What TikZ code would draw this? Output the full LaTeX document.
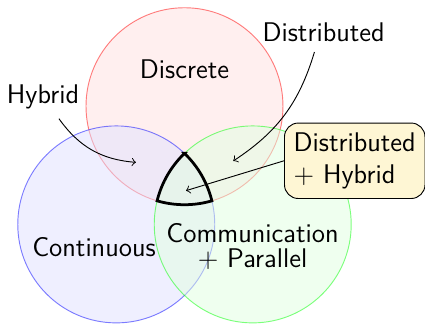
\documentclass[tikz,border=0pt]{standalone}
\usepackage{tikz}

\begin{document}
\begin{tikzpicture}[font=\sffamily\fontsize{11.7}{14.2}\selectfont,
    region/.style={opacity=0.5},
    callout/.style={draw, rounded corners=6pt, fill=yellow!65!orange!16, align=left, inner sep=4pt}]
        \useasboundingbox (-2.81,-2.102) rectangle (3.663,2.818);

        % Three overlapping sets
        \draw[region, draw=red, fill=red!12] (90:1.2) circle (1.5);
        \draw[region, draw=blue, fill=blue!12] (210:1.2) circle (1.5);
        \draw[region, draw=green, fill=green!12] (330:1.2) circle (1.5);

        % Outline of the common part
        \draw[very thick] (90:0.4817)
            arc[start angle=133.85, end angle=166.15, radius=1.5]
            arc[start angle=253.85, end angle=286.15, radius=1.5]
            arc[start angle=13.85, end angle=46.15, radius=1.5] -- cycle;

        % Set labels
        \node (discrete) at (0,1.77) {Discrete};
        \node (continuous) at (-1.378,-0.944) {Continuous};
        \node[align=center] (comm) at (1.036,-0.937) {Communication\\[-3.3pt]+ Parallel};

        % Overlap labels
        \node (hybrid) at (-2.155,1.337) {Hybrid};
        \node (distributed) at (2.12,2.33) {Distributed};
        \node[callout] (both) at (2.593,0.369) {Distributed\\+ Hybrid};

        \coordinate (hybridzone) at (-0.739,0.345);
        \coordinate (distzone) at (0.743,0.366);
        \coordinate (bothzone) at (0.023,-0.086);

        % Arrows into the overlaps
        \draw[->] ([xshift=6.9pt,yshift=-0.5pt]hybrid.south) to[bend right=25] (hybridzone);
        \draw[->] ([xshift=-4pt,yshift=-1pt]distributed.south) to[bend left=20] (distzone);
        \draw[->] (both.west) -- (bothzone);
    \end{tikzpicture}
\end{document}
